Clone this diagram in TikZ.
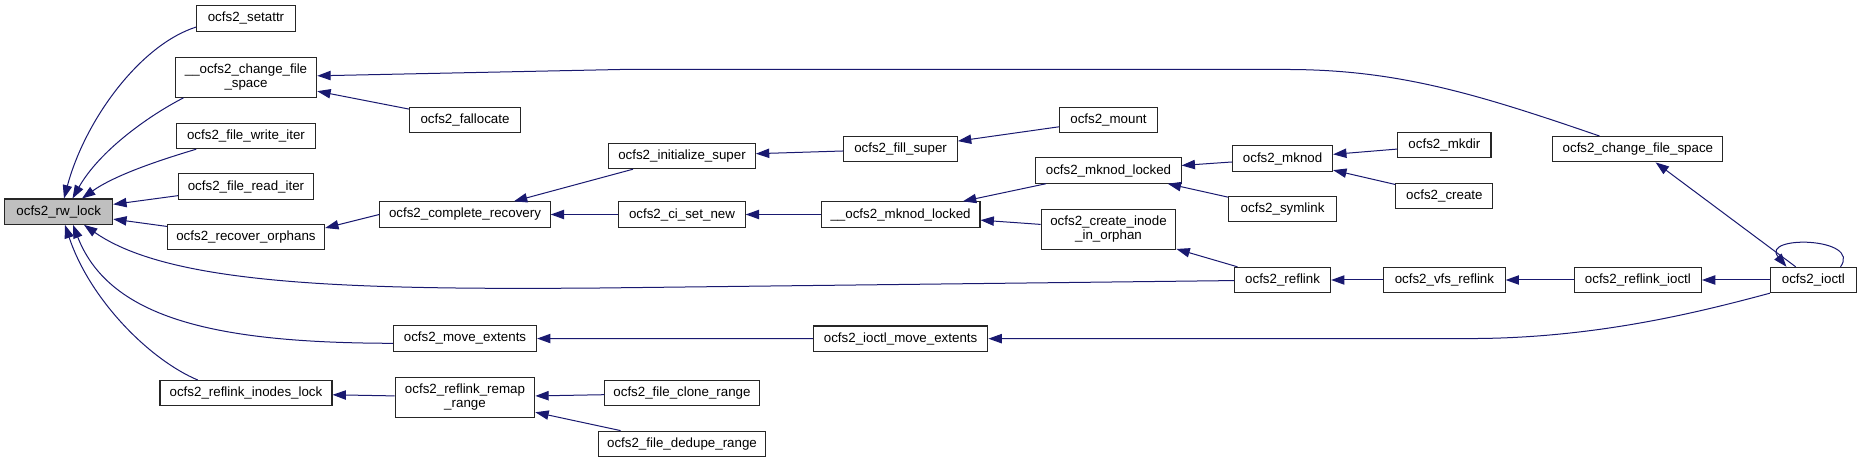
\documentclass[tikz,border=0pt]{standalone}
\usepackage{fontspec}
\setmainfont{Liberation Sans}
\usetikzlibrary{arrows.meta,calc}
\definecolor{edgeblue}{HTML}{191970}
\definecolor{nodegray}{HTML}{BFBFBF}
\begin{document}
\begin{tikzpicture}[x=0.75pt,y=-0.75pt,
  fn/.style={draw=black!85, line width=0.8pt, fill=white, inner sep=0pt,
    minimum height=19pt, minimum width=#1*0.75pt,
    font=\fontsize{10}{10.5}\selectfont, align=center},
  fntwo/.style={fn=#1, minimum height=30pt},
  edge/.style={draw=edgeblue, line width=0.75pt, -{Triangle[length=10pt,width=7pt]}},
]
\fill[white] (0,0) rectangle (1861,463);
\useasboundingbox (0,0) rectangle (1861,463);

% column 1
\node[fn=108, fill=nodegray] (rwlock) at (58.7,211.7) {ocfs2\_rw\_lock};
% column 2
\node[fn=99] (setattr) at (246,18.5) {ocfs2\_setattr};
\node[fntwo=141.5] (chfs) at (246,77.3) {\_\_ocfs2\_change\_file\\\_space};
\node[fn=138.7] (writeiter) at (246,136) {ocfs2\_file\_write\_iter};
\node[fn=135] (readiter) at (246,186.5) {ocfs2\_file\_read\_iter};
\node[fn=157.3] (recorph) at (246,237.2) {ocfs2\_recover\_orphans};
\node[fn=172] (refinodes) at (246,393.2) {ocfs2\_reflink\_inodes\_lock};
% column 3
\node[fn=111] (fallocate) at (465,120) {ocfs2\_fallocate};
\node[fn=170.4] (complrec) at (465,214.5) {ocfs2\_complete\_recovery};
\node[fn=143.2] (moveext) at (465,338.5) {ocfs2\_move\_extents};
\node[fntwo=139.6] (remaprange) at (465,397.2) {ocfs2\_reflink\_remap\\\_range};
% column 4
\node[fn=146.8] (initsuper) at (682,156) {ocfs2\_initialize\_super};
\node[fn=126.4] (cisetnew) at (682,214.5) {ocfs2\_ci\_set\_new};
\node[fn=154.2] (clonerange) at (682,393.3) {ocfs2\_file\_clone\_range};
\node[fn=166.6] (deduperange) at (682,443.8) {ocfs2\_file\_dedupe\_range};
% column 5
\node[fn=113.6] (fillsuper) at (900.6,149.2) {ocfs2\_fill\_super};
\node[fn=158.8] (umknodlocked) at (900.6,214.5) {\_\_ocfs2\_mknod\_locked};
\node[fn=174.6] (ioctlmove) at (900.6,338.7) {ocfs2\_ioctl\_move\_extents};
% column 6
\node[fn=97.4] (mount) at (1108.5,119.8) {ocfs2\_mount};
\node[fn=145.2] (mknodlocked) at (1108.5,170.5) {ocfs2\_mknod\_locked};
\node[fntwo=134.8] (createorphan) at (1108.5,229.2) {ocfs2\_create\_inode\\\_in\_orphan};
% column 7
\node[fn=100] (mknod) at (1282.6,158.5) {ocfs2\_mknod};
\node[fn=107.5] (symlink) at (1282.6,209.3) {ocfs2\_symlink};
\node[fn=96] (reflink) at (1282.6,280) {ocfs2\_reflink};
% column 8
\node[fn=93.2] (mkdir) at (1444.4,145.2) {ocfs2\_mkdir};
\node[fn=97] (create) at (1444.4,195.8) {ocfs2\_create};
\node[fn=121.4] (vfsreflink) at (1444.4,280) {ocfs2\_vfs\_reflink};
% column 9
\node[fn=170] (changefs) at (1637.9,149.2) {ocfs2\_change\_file\_space};
\node[fn=127] (reflinkioctl) at (1637.9,280) {ocfs2\_reflink\_ioctl};
% column 10
\node[fn=86] (ioctl) at (1813.4,280) {ocfs2\_ioctl};

% edges into rw_lock
\draw[edge] ($(setattr.south west)+(0,-4.6)$) .. controls (140,45) and (85,120) .. ($(rwlock.north)+(5.3,0)$);
\draw[edge] ($(chfs.south west)+(8.8,0)$) .. controls (150,115) and (100,150) .. ($(rwlock.north)+(13.8,0)$);
\draw[edge] ($(writeiter.south west)+(20.1,0)$) .. controls (160,160) and (115,175) .. ($(rwlock.north)+(23.3,0)$);
\draw[edge] (readiter) -- (rwlock);
\draw[edge] (recorph) -- (rwlock);
\draw[edge] (reflink) -- (600,288) .. controls (350,290) and (170,285) .. ($(rwlock.south)+(25.3,0)$);
\draw[edge] ($(moveext.west)+(0,4.8)$) .. controls (220,343) and (110,320) .. ($(rwlock.south)+(14.3,0)$);
\draw[edge] ($(refinodes.north west)+(38.3,0)$) .. controls (150,360) and (90,300) .. ($(rwlock.south)+(6.3,0)$);

% into __ocfs2_change_file_space
\draw[edge] (fallocate) -- (chfs);
\draw[edge] (changefs) .. controls (1480,95) and (1400,70) .. (1290,69.5) -- (620,69.5) -- (chfs);

% recovery chain
\draw[edge] (complrec.west) -- ($(recorph.north east)+(0,4)$);
\draw[edge] (initsuper) -- (complrec);
\draw[edge] (cisetnew) -- (complrec);
\draw[edge] (fillsuper) -- (initsuper);
\draw[edge] (mount) -- (fillsuper);
\draw[edge] (umknodlocked) -- (cisetnew);
\draw[edge] (mknodlocked) -- (umknodlocked);
\draw[edge] (createorphan) -- (umknodlocked);
\draw[edge] (mknod) -- (mknodlocked);
\draw[edge] (symlink) -- (mknodlocked);
\draw[edge] (mkdir) -- (mknod);
\draw[edge] (create) -- (mknod);

% reflink chain
\draw[edge] (reflink) -- (createorphan);
\draw[edge] (vfsreflink) -- (reflink);
\draw[edge] (reflinkioctl) -- (vfsreflink);
\draw[edge] (ioctl) -- (reflinkioctl);
\draw[edge] (ioctl) -- (changefs);
\draw[edge] ($(ioctl.north east)+(-16.4,0)$) .. controls (1862,237) and (1760,235) .. ($(ioctl.north west)+(16.6,0)$);
\draw[edge] (ioctl.south west) .. controls (1700,312) and (1600,337) .. (1480,338.5) -- (ioctlmove);
\draw[edge] (ioctlmove) -- (moveext);

% remap range
\draw[edge] (remaprange) -- (refinodes);
\draw[edge] (clonerange) -- (remaprange);
\draw[edge] (deduperange) -- (remaprange);
\end{tikzpicture}
\end{document}
